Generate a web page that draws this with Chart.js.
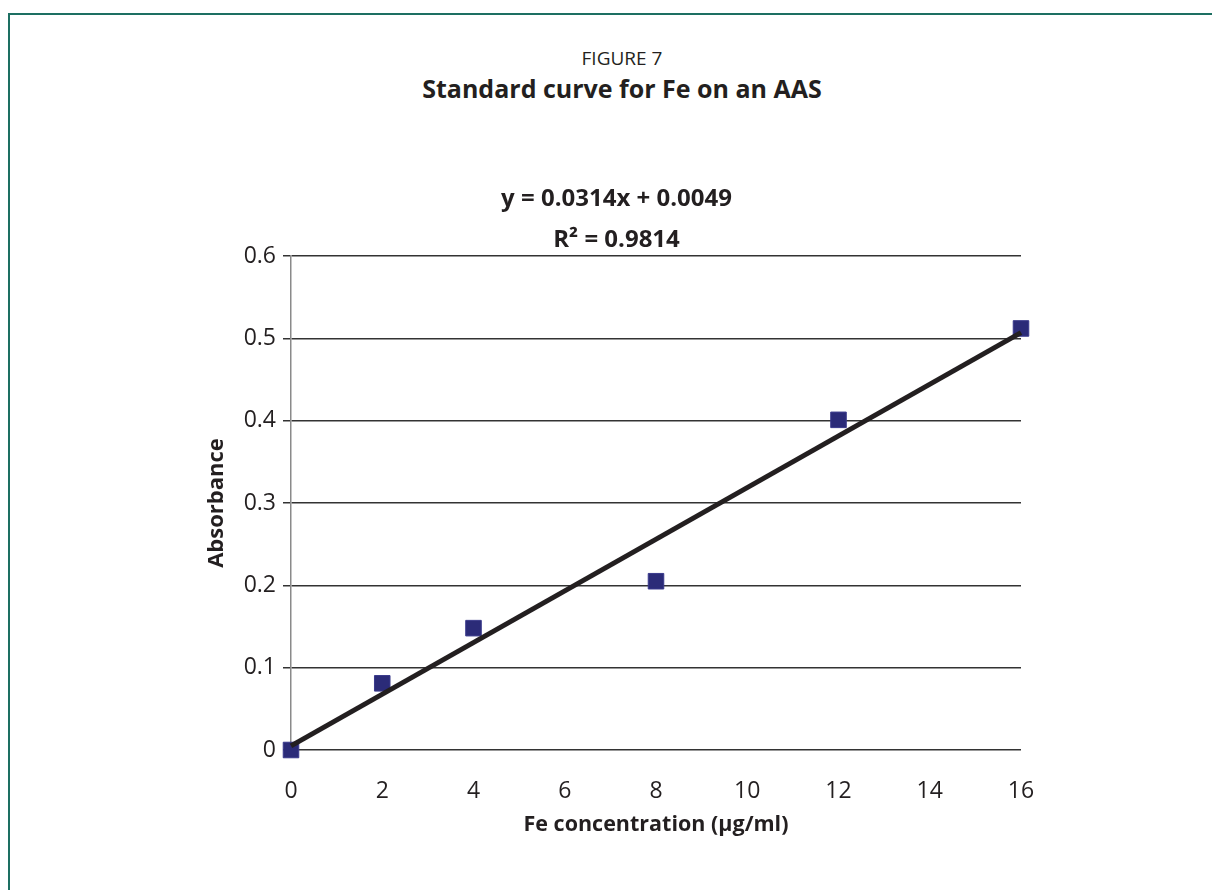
<!DOCTYPE html>
<html>
<head>
<meta charset="utf-8">
<script src="https://cdn.jsdelivr.net/npm/chart.js@4"></script>
<style>
    html, body { margin: 0; padding: 0; background: #fff; }
    body { width: 1212px; height: 890px; position: relative; overflow: hidden; font-family: 'Open Sans', sans-serif; color: #231f20; }
    .frame-top { position: absolute; left: 8px; top: 13px; width: 1204px; height: 2px; background: #1d6f62; }
    .frame-left { position: absolute; left: 8px; top: 13px; width: 2px; height: 877px; background: #1d6f62; }
    .caption { position: absolute; left: 0; width: 1244px; text-align: center; }
    #fig-no { top: 45px; font-size: 19px; }
    #fig-title { top: 71px; font-size: 25px; font-weight: 700; }
    #chart-wrap { position: absolute; left: 0; top: 0; width: 1212px; height: 890px; }
</style>
</head>
<body>
<div class="frame-top"></div>
<div class="frame-left"></div>
<div class="caption" id="fig-no">FIGURE 7</div>
<div class="caption" id="fig-title">Standard curve for Fe on an AAS</div>
<div id="chart-wrap"><canvas id="aas-chart"></canvas></div>

<script>
// Standard points (concentration in µg/ml, absorbance)
const concentrations = [0, 2, 4, 8, 12, 16];
const absorbances = [0, 0.081, 0.148, 0.205, 0.401, 0.512];

// Linear trendline ends as drawn on the figure
const fitX = [0, 16];
const fitY = [0.005, 0.507];

const yTicks = [0, 0.1, 0.2, 0.3, 0.4, 0.5, 0.6];
const xTicks = [0, 2, 4, 6, 8, 10, 12, 14, 16];
const equationLines = ['y = 0.0314x + 0.0049', 'R² = 0.9814'];

const FONT = "'Open Sans', sans-serif";
const INK = '#231f20';

document.addEventListener('DOMContentLoaded', function() {
    const ctx = document.getElementById('aas-chart').getContext('2d');

    new Chart(ctx, {
        type: 'scatter',
        data: {
            datasets: [
                {
                    type: 'line',
                    label: 'Linear fit',
                    data: fitX.map((x, i) => ({ x: x, y: fitY[i] })),
                    borderColor: INK,
                    borderWidth: 5,
                    pointRadius: 0,
                    fill: false,
                    clip: false,
                    order: 0
                },
                {
                    label: 'Fe standards',
                    data: concentrations.map((x, i) => ({ x: x, y: absorbances[i] })),
                    pointStyle: 'rect',
                    pointRadius: 11,
                    backgroundColor: '#2b2b78',
                    borderColor: '#3a3a8c',
                    borderWidth: 1,
                    clip: false,
                    order: 1
                }
            ]
        },
        options: {
            responsive: true,
            maintainAspectRatio: false,
            animation: false,
            layout: {
                padding: { top: 179, left: 212, right: 191, bottom: 52 }
            },
            plugins: {
                legend: { display: false },
                tooltip: { enabled: false },
                title: {
                    display: true,
                    text: equationLines,
                    color: INK,
                    font: { family: FONT, size: 24, weight: 'bold', lineHeight: '41px' },
                    padding: { top: 0, bottom: -5 }
                }
            },
            scales: {
                x: {
                    type: 'linear',
                    min: 0,
                    max: 16,
                    afterBuildTicks: function(scale) {
                        scale.ticks = xTicks.map(v => ({ value: v }));
                    },
                    afterFit: function(scale) { scale.height = 88; },
                    grid: { display: false, drawTicks: false },
                    border: { display: false },
                    ticks: {
                        color: INK,
                        padding: 28,
                        maxRotation: 0,
                        font: { family: FONT, size: 23 }
                    },
                    title: {
                        display: true,
                        text: 'Fe concentration (µg/ml)',
                        color: INK,
                        font: { family: FONT, size: 21.5, weight: 'bold', lineHeight: 1.2 },
                        padding: { top: 0, bottom: 0 }
                    }
                },
                y: {
                    type: 'linear',
                    min: 0,
                    max: 0.6,
                    afterBuildTicks: function(scale) {
                        scale.ticks = yTicks.map(v => ({ value: v }));
                    },
                    afterFit: function(scale) { scale.width = 79; },
                    grid: {
                        color: '#333333',
                        lineWidth: 1.5,
                        tickLength: 8,
                        tickColor: '#333333'
                    },
                    border: { display: true, color: '#8a8a8a', width: 1.5 },
                    ticks: {
                        color: INK,
                        padding: 7,
                        font: { family: FONT, size: 23 },
                        callback: function(value) { return String(value); }
                    },
                    title: {
                        display: true,
                        text: 'Absorbance',
                        color: INK,
                        font: { family: FONT, size: 22, weight: 'bold', lineHeight: 0.4 },
                        padding: { top: 0, bottom: 0 }
                    }
                }
            }
        }
    });
});
</script>
</body>
</html>
